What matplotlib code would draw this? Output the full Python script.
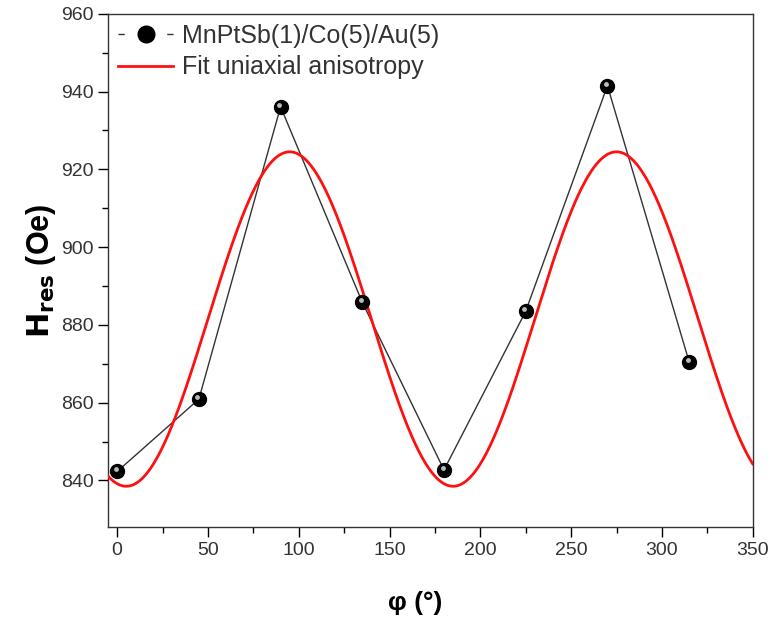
import numpy as np
import matplotlib
matplotlib.use("Agg")
from matplotlib import pyplot as plt
from matplotlib.transforms import offset_copy

plt.rcParams['font.family'] = ['Liberation Sans', 'DejaVu Sans']

# measured resonance field vs in-plane angle
PHI = [0, 45, 90, 135, 180, 225, 270, 315]
H_RES = [842.3, 860.9, 936.1, 885.8, 842.7, 883.5, 941.5, 870.5]

# uniaxial anisotropy fit: H = H0 - A*cos(2*(phi - phi0))
FIT_H0 = 881.5
FIT_AMP = 43.0
FIT_PHI0 = 5.0

SAMPLE_LABEL = "MnPtSb(1)/Co(5)/Au(5)"
FIT_LABEL = "Fit uniaxial anisotropy"

fig = plt.figure(figsize=(7.72, 6.26), dpi=100)
ax = fig.add_axes([0.140, 0.158, 0.835, 0.820])

phi_fit = np.linspace(-5, 350, 800)
h_fit = FIT_H0 - FIT_AMP * np.cos(np.deg2rad(2 * (phi_fit - FIT_PHI0)))

ax.plot(PHI, H_RES, color='#333333', lw=1.0, zorder=2)
ax.plot(phi_fit, h_fit, color='#ff1010', lw=2.0, zorder=3)
ax.plot(PHI, H_RES, ls='none', marker='o', ms=10, mfc='black', mec='black', zorder=4)
# little highlight to mimic the shaded spheres
hl = offset_copy(ax.transData, fig=fig, x=-1.0, y=1.5, units='points')
ax.plot(PHI, H_RES, ls='none', marker='o', ms=3.5, mfc='#bbbbbb', mec='none',
        transform=hl, zorder=5)

# legend handles: "- o -"
h_sample, = ax.plot([], [], color='#333333', lw=1.0, dashes=(4.5, 30.6), marker='o',
                    ms=12, mfc='black', mec='black')
h_fitline, = ax.plot([], [], color='#ff1010', lw=2.0)
ax.legend([h_sample, h_fitline], [SAMPLE_LABEL, FIT_LABEL], loc='upper left',
          frameon=False, fontsize=18, handlelength=2.2, handletextpad=0.35,
          borderaxespad=0.2, labelspacing=0.3, borderpad=0.2, labelcolor='#333333')

ax.set_xlim(-5, 350)
ax.set_ylim(828, 960)
ax.set_xticks(np.arange(0, 351, 50))
ax.set_xticks(np.arange(25, 351, 50), minor=True)
ax.set_yticks(np.arange(840, 961, 20))
ax.set_yticks(np.arange(850, 961, 20), minor=True)
ax.tick_params(which='both', direction='out', top=False, right=False,
               labelsize=14, labelcolor='#333333', width=1.0)
ax.tick_params(which='major', length=7)
ax.tick_params(which='minor', length=4)
for s in ax.spines.values():
    s.set_linewidth(1.0)
    s.set_color('#333333')

ax.set_xlabel('φ (°)', fontsize=19, fontweight='bold', labelpad=22)
ax.xaxis.set_label_coords(0.477, -0.125)
ax.set_ylabel(r'$\mathbf{H_{res}}$ (Oe)', fontsize=22, fontweight='bold', labelpad=2)

fig.savefig('out.png', dpi=100)
